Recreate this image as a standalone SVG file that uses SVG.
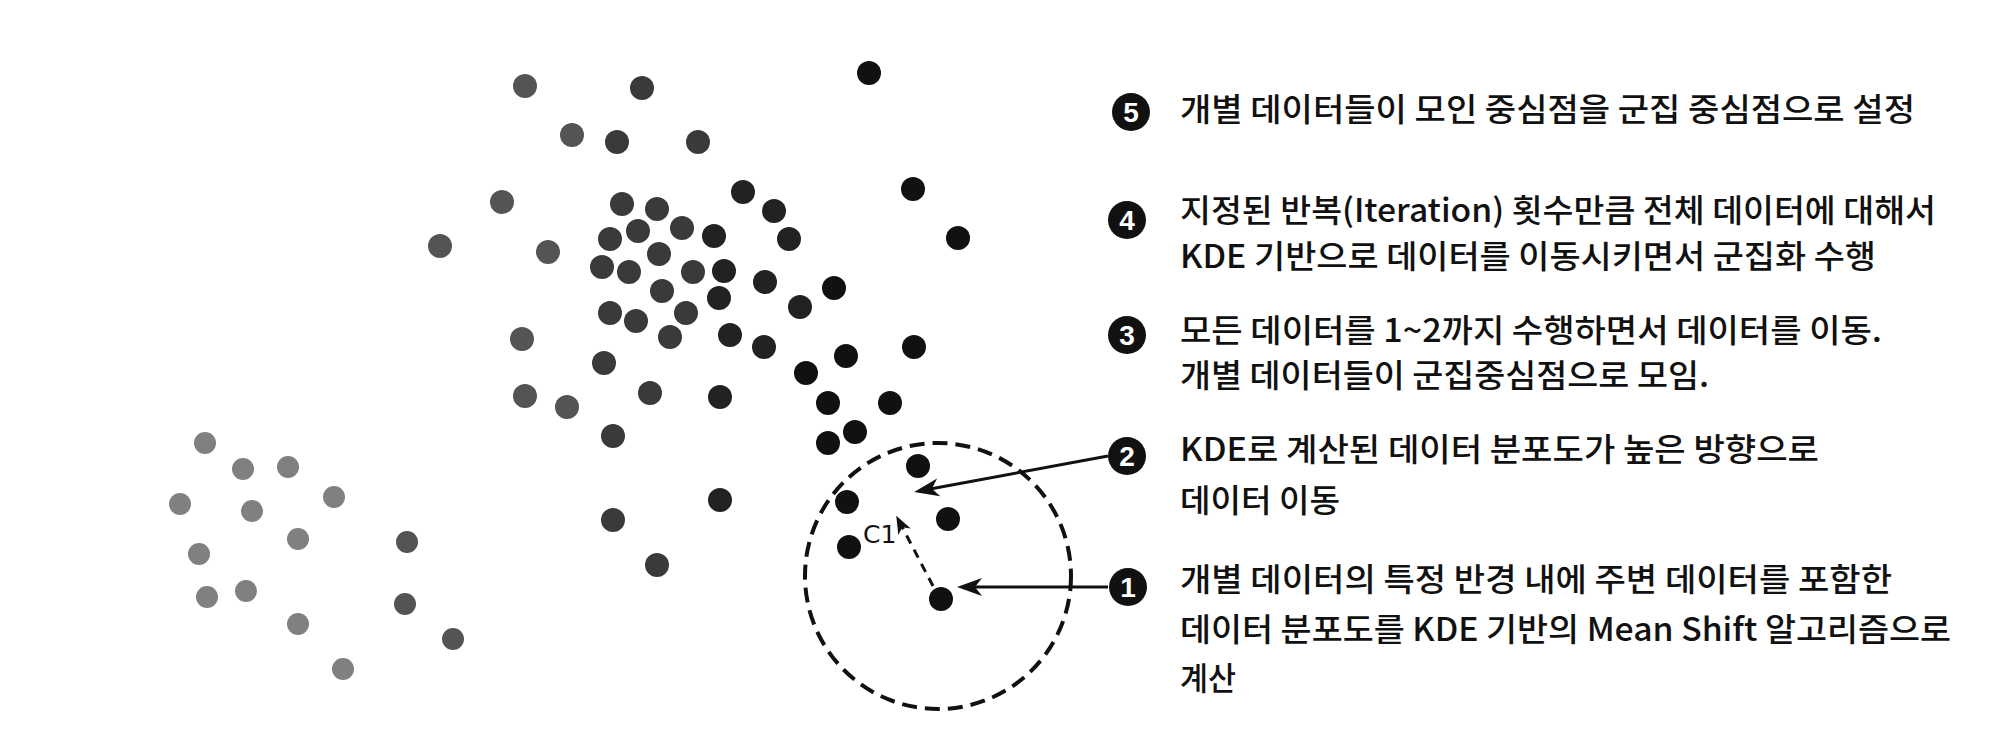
<svg xmlns="http://www.w3.org/2000/svg" width="1996" height="754" viewBox="0 0 1996 754">
  <style>
    .txt { font-family: "Noto Sans CJK KR", "Noto Sans", sans-serif; font-size: 32px; font-weight: 500; fill: #111; }
    .num { font-family: "Liberation Sans", "DejaVu Sans", sans-serif; font-size: 28px; font-weight: bold; fill: #fff; text-anchor: middle; }
    .badge { fill: #111; }
    .d1 { fill: #808080; }
    .d2 { fill: #545454; }
    .d3 { fill: #3a3a3a; }
    .d4 { fill: #222; }
    .d5 { fill: #111; }
    .conn { stroke: #111; stroke-width: 3; fill: none; }
    .dash { stroke: #111; stroke-width: 3; fill: none; stroke-dasharray: 9 7; }
    .ring { stroke: #111; stroke-width: 4; fill: none; stroke-dasharray: 15 8; }
    .c1 { font-family: "DejaVu Sans", sans-serif; font-size: 25px; fill: #111; }
  </style>
  <defs>
    <marker id="arr" viewBox="-18 -10 28 20" refX="0" refY="0" markerWidth="28" markerHeight="20" markerUnits="userSpaceOnUse" orient="auto">
      <path d="M8,0 L-17,-9 L-10,0 L-17,9 Z" fill="#111" stroke="none"/>
    </marker>
    <marker id="arrs" viewBox="-14 -8 22 16" refX="0" refY="0" markerWidth="22" markerHeight="16" markerUnits="userSpaceOnUse" orient="auto">
      <path d="M6,0 L-12,-7 L-7,0 L-12,7 Z" fill="#111" stroke="none"/>
    </marker>
  </defs>
  <rect x="0" y="0" width="1996" height="754" fill="#fff"/>

  <g id="dots-light">
    <circle class="d1" cx="205" cy="443" r="11"/>
    <circle class="d1" cx="243" cy="469" r="11"/>
    <circle class="d1" cx="288" cy="467" r="11"/>
    <circle class="d1" cx="180" cy="504" r="11"/>
    <circle class="d1" cx="252" cy="511" r="11"/>
    <circle class="d1" cx="334" cy="497" r="11"/>
    <circle class="d1" cx="298" cy="539" r="11"/>
    <circle class="d2" cx="407" cy="542" r="11"/>
    <circle class="d1" cx="199" cy="554" r="11"/>
    <circle class="d1" cx="207" cy="597" r="11"/>
    <circle class="d1" cx="246" cy="591" r="11"/>
    <circle class="d2" cx="405" cy="604" r="11"/>
    <circle class="d1" cx="298" cy="624" r="11"/>
    <circle class="d2" cx="453" cy="639" r="11"/>
    <circle class="d1" cx="343" cy="669" r="11"/>
  </g>

  <g id="dots-main">
    <circle class="d2" cx="525" cy="86" r="12"/>
    <circle class="d3" cx="642" cy="88" r="12"/>
    <circle class="d5" cx="869" cy="73" r="12"/>
    <circle class="d2" cx="572" cy="135" r="12"/>
    <circle class="d3" cx="617" cy="142" r="12"/>
    <circle class="d3" cx="698" cy="142" r="12"/>
    <circle class="d2" cx="502" cy="202" r="12"/>
    <circle class="d3" cx="622" cy="204" r="12"/>
    <circle class="d3" cx="657" cy="209" r="12"/>
    <circle class="d4" cx="743" cy="192" r="12"/>
    <circle class="d4" cx="774" cy="211" r="12"/>
    <circle class="d5" cx="913" cy="189" r="12"/>
    <circle class="d2" cx="440" cy="246" r="12"/>
    <circle class="d2" cx="548" cy="252" r="12"/>
    <circle class="d3" cx="610" cy="239" r="12"/>
    <circle class="d3" cx="638" cy="231" r="12"/>
    <circle class="d3" cx="682" cy="228" r="12"/>
    <circle class="d4" cx="714" cy="236" r="12"/>
    <circle class="d4" cx="789" cy="239" r="12"/>
    <circle class="d5" cx="958" cy="238" r="12"/>
    <circle class="d3" cx="602" cy="267" r="12"/>
    <circle class="d3" cx="629" cy="272" r="12"/>
    <circle class="d3" cx="659" cy="254" r="12"/>
    <circle class="d3" cx="693" cy="272" r="12"/>
    <circle class="d4" cx="724" cy="271" r="12"/>
    <circle class="d4" cx="765" cy="282" r="12"/>
    <circle class="d5" cx="834" cy="288" r="12"/>
    <circle class="d3" cx="662" cy="291" r="12"/>
    <circle class="d4" cx="719" cy="298" r="12"/>
    <circle class="d4" cx="800" cy="307" r="12"/>
    <circle class="d3" cx="610" cy="313" r="12"/>
    <circle class="d3" cx="636" cy="321" r="12"/>
    <circle class="d3" cx="686" cy="313" r="12"/>
    <circle class="d3" cx="670" cy="337" r="12"/>
    <circle class="d4" cx="730" cy="335" r="12"/>
    <circle class="d4" cx="764" cy="347" r="12"/>
    <circle class="d5" cx="846" cy="356" r="12"/>
    <circle class="d5" cx="914" cy="347" r="12"/>
    <circle class="d2" cx="522" cy="339" r="12"/>
    <circle class="d3" cx="604" cy="363" r="12"/>
    <circle class="d5" cx="806" cy="373" r="12"/>
    <circle class="d2" cx="525" cy="396" r="12"/>
    <circle class="d2" cx="567" cy="407" r="12"/>
    <circle class="d3" cx="650" cy="393" r="12"/>
    <circle class="d4" cx="720" cy="397" r="12"/>
    <circle class="d5" cx="828" cy="403" r="12"/>
    <circle class="d5" cx="890" cy="403" r="12"/>
    <circle class="d3" cx="613" cy="436" r="12"/>
    <circle class="d5" cx="855" cy="432" r="12"/>
    <circle class="d5" cx="828" cy="443" r="12"/>
    <circle class="d5" cx="918" cy="466" r="12"/>
    <circle class="d5" cx="847" cy="502" r="12"/>
    <circle class="d5" cx="948" cy="519" r="12"/>
    <circle class="d5" cx="849" cy="547" r="12"/>
    <circle class="d5" cx="941" cy="599" r="12"/>
    <circle class="d4" cx="720" cy="500" r="12"/>
    <circle class="d3" cx="613" cy="520" r="12"/>
    <circle class="d3" cx="657" cy="565" r="12"/>
  </g>

  <g id="radius">
    <circle class="ring" cx="938" cy="576" r="133"/>
    <text class="c1" x="863" y="543">C1</text>
  </g>

  <g id="connectors">
    <line class="conn" x1="1108" y1="587" x2="965" y2="587" marker-end="url(#arr)"/>
    <line class="conn" x1="1108" y1="456" x2="922" y2="490.5" marker-end="url(#arr)"/>
    <line class="dash" x1="933" y1="586" x2="899" y2="521" marker-end="url(#arrs)"/>
  </g>

  <g id="step5">
    <circle class="badge" cx="1131" cy="112" r="19"/>
    <text class="num" x="1131" y="122">5</text>
    <text class="txt" x="1180" y="121" textLength="735" lengthAdjust="spacingAndGlyphs">개별 데이터들이 모인 중심점을 군집 중심점으로 설정</text>
  </g>
  <g id="step4">
    <circle class="badge" cx="1127" cy="220" r="19"/>
    <text class="num" x="1127" y="230">4</text>
    <text class="txt" x="1180" y="222" textLength="756" lengthAdjust="spacingAndGlyphs">지정된 반복(Iteration) 횟수만큼 전체 데이터에 대해서</text>
    <text class="txt" x="1180" y="268" textLength="696" lengthAdjust="spacingAndGlyphs">KDE 기반으로 데이터를 이동시키면서 군집화 수행</text>
  </g>
  <g id="step3">
    <circle class="badge" cx="1127" cy="335" r="19"/>
    <text class="num" x="1127" y="345">3</text>
    <text class="txt" x="1180" y="342" textLength="702" lengthAdjust="spacingAndGlyphs">모든 데이터를 1~2까지 수행하면서 데이터를 이동.</text>
    <text class="txt" x="1180" y="387" textLength="529" lengthAdjust="spacingAndGlyphs">개별 데이터들이 군집중심점으로 모임.</text>
  </g>
  <g id="step2">
    <circle class="badge" cx="1127" cy="456" r="19"/>
    <text class="num" x="1127" y="466">2</text>
    <text class="txt" x="1180" y="461" textLength="639" lengthAdjust="spacingAndGlyphs">KDE로 계산된 데이터 분포도가 높은 방향으로</text>
    <text class="txt" x="1180" y="512" textLength="160" lengthAdjust="spacingAndGlyphs">데이터 이동</text>
  </g>
  <g id="step1">
    <circle class="badge" cx="1128" cy="587" r="19"/>
    <text class="num" x="1128" y="597">1</text>
    <text class="txt" x="1180" y="591" textLength="712" lengthAdjust="spacingAndGlyphs">개별 데이터의 특정 반경 내에 주변 데이터를 포함한</text>
    <text class="txt" x="1180" y="641" textLength="771" lengthAdjust="spacingAndGlyphs">데이터 분포도를 KDE 기반의 Mean Shift 알고리즘으로</text>
    <text class="txt" x="1180" y="690" textLength="56" lengthAdjust="spacingAndGlyphs">계산</text>
  </g>
</svg>
